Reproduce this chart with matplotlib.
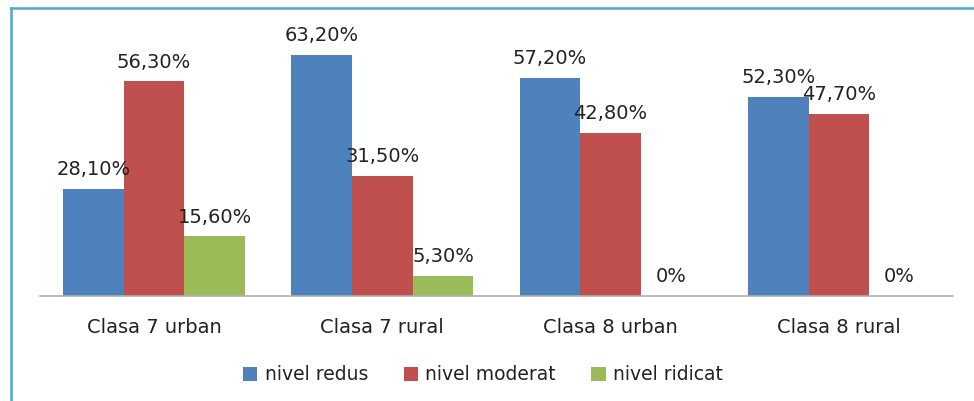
import matplotlib.pyplot as plt
from matplotlib.lines import Line2D
import numpy as np

# date din grafic
categorii = ["Clasa 7 urban", "Clasa 7 rural", "Clasa 8 urban", "Clasa 8 rural"]
nivel_redus = [28.1, 63.2, 57.2, 52.3]
nivel_moderat = [56.3, 31.5, 42.8, 47.7]
nivel_ridicat = [15.6, 5.3, 0, 0]
serii = ["nivel redus", "nivel moderat", "nivel ridicat"]
culori = ["#4F81BD", "#C0504D", "#9BBB59"]

plt.rcParams['font.family'] = ['DejaVu Sans']

fig = plt.figure(figsize=(9.74, 4.01), dpi=100)
ax = fig.add_axes([40 / 974, 105 / 401, 913 / 974, 267 / 401])

x = np.arange(len(categorii))
w = 0.266
for i, (vals, nume, c) in enumerate(zip([nivel_redus, nivel_moderat, nivel_ridicat], serii, culori)):
    bars = ax.bar(x + (i - 1) * w, vals, w, color=c, label=nume)
    for b, v in zip(bars, vals):
        txt = "0%" if v == 0 else f"{v:.2f}".replace(".", ",") + "%"
        ax.annotate(txt, (b.get_x() + b.get_width() / 2, v), xytext=(0, 7),
                    textcoords="offset points", ha="center", va="bottom",
                    fontsize=14, color="#222222")

ax.set_xlim(-0.5, 3.5)
ax.set_ylim(0, 70)
ax.set_xticks(x)
ax.set_xticklabels(categorii, fontsize=14, color="#222222")
ax.tick_params(axis="x", length=0, pad=16)
ax.set_yticks([])
for s in ["top", "right", "left"]:
    ax.spines[s].set_visible(False)
ax.spines["bottom"].set_color("#B0B0B0")
ax.spines["bottom"].set_linewidth(1.2)

leg = fig.legend(loc="center", bbox_to_anchor=(483 / 974, 1 - 375 / 401), ncol=3,
                 frameon=False, fontsize=13.5, handlelength=0.75, handleheight=0.75,
                 handletextpad=0.4, columnspacing=1.9)
for t in leg.get_texts():
    t.set_color("#222222")

# chenarul albastru
fig.add_artist(Line2D([11 / 974, 1], [1 - 8 / 401, 1 - 8 / 401], color="#4BACC6", lw=1.8))
fig.add_artist(Line2D([11 / 974, 11 / 974], [0, 1 - 8 / 401], color="#4BACC6", lw=1.8))

fig.savefig("out.png", dpi=100)
